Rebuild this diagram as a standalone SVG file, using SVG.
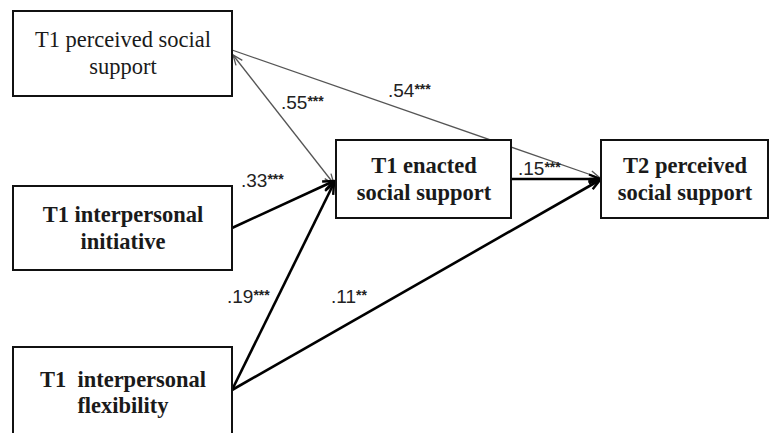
<svg xmlns="http://www.w3.org/2000/svg" width="771" height="433" viewBox="0 0 771 433">
<defs>
<style>
.box{fill:#fff;stroke:#111;stroke-width:2}
.reg{font-family:"Liberation Serif","Times New Roman",serif;font-size:22.5px;fill:#1a1a1a;text-anchor:middle}
.bold{font-family:"Liberation Serif","Times New Roman",serif;font-size:22.5px;font-weight:bold;fill:#1a1a1a;text-anchor:middle}
.lbl{font-family:"Liberation Sans",Arial,sans-serif;font-size:19px;fill:#222}
.star{font-size:14px;font-weight:bold}
.thin{fill:none;stroke:#555;stroke-width:1.3}
.thick{fill:none;stroke:#000;stroke-width:2.6}
</style>
<marker id="ah-thin" markerUnits="userSpaceOnUse" markerWidth="14" markerHeight="12" refX="11" refY="5" orient="auto-start-reverse">
<path d="M1,1 L11,5 L1,9" fill="none" stroke="#555" stroke-width="1.3"/>
</marker>
<marker id="ah-thick" markerUnits="userSpaceOnUse" markerWidth="16" markerHeight="14" refX="12" refY="6" orient="auto">
<path d="M1,1.5 L12,6 L1,10.5" fill="none" stroke="#000" stroke-width="2.4"/>
</marker>
</defs>
<rect width="771" height="433" fill="#fff"/>
<g id="connectors">
<line class="thin" x1="233" y1="55" x2="334" y2="184" marker-start="url(#ah-thin)" marker-end="url(#ah-thin)"/>
<line class="thin" x1="232" y1="50" x2="600" y2="178" marker-end="url(#ah-thin)"/>
<line class="thick" x1="232" y1="228" x2="334" y2="181" marker-end="url(#ah-thick)"/>
<line class="thick" x1="232" y1="390" x2="334" y2="183" marker-end="url(#ah-thick)"/>
<line class="thick" x1="232" y1="390" x2="600" y2="180" marker-end="url(#ah-thick)"/>
<line class="thick" x1="512" y1="179" x2="600" y2="179" marker-end="url(#ah-thick)"/>
<text class="lbl" x="281" y="109">.55<tspan class="star" dy="-3">***</tspan></text>
<text class="lbl" x="388" y="97">.54<tspan class="star" dy="-3">***</tspan></text>
<text class="lbl" x="241" y="187">.33<tspan class="star" dy="-3">***</tspan></text>
<text class="lbl" x="227" y="303">.19<tspan class="star" dy="-3">***</tspan></text>
<text class="lbl" x="331" y="303">.11<tspan class="star" dy="-3">**</tspan></text>
<text class="lbl" x="518" y="175">.15<tspan class="star" dy="-3">***</tspan></text>
</g>
<g id="t1-perceived">
<rect class="box" x="13" y="11" width="219" height="85"/>
<text class="reg" x="123" y="47">T1 perceived social</text>
<text class="reg" x="123" y="74">support</text>
</g>
<g id="t1-initiative">
<rect class="box" x="13" y="186" width="219" height="84"/>
<text class="bold" x="123" y="222">T1 interpersonal</text>
<text class="bold" x="123" y="249">initiative</text>
</g>
<g id="t1-flexibility">
<rect class="box" x="13" y="347" width="219" height="100"/>
<text class="bold" x="123" y="387" xml:space="preserve">T1  interpersonal</text>
<text class="bold" x="123" y="413">flexibility</text>
</g>
<g id="t1-enacted">
<rect class="box" x="336" y="140" width="175" height="78"/>
<text class="bold" x="424" y="173">T1 enacted</text>
<text class="bold" x="424" y="200">social support</text>
</g>
<g id="t2-perceived">
<rect class="box" x="601" y="140" width="167" height="78"/>
<text class="bold" x="685" y="173">T2 perceived</text>
<text class="bold" x="685" y="200">social support</text>
</g>
</svg>
